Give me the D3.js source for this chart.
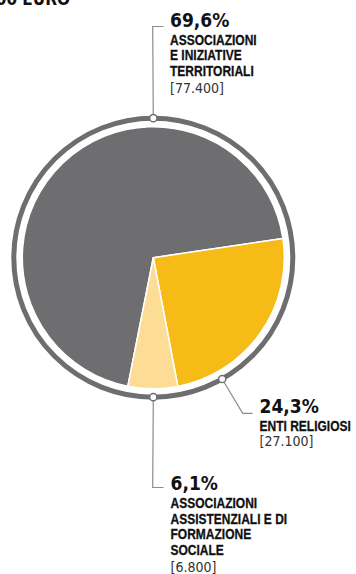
<!DOCTYPE html>
<html>
<head>
<meta charset="utf-8">
<script src="https://cdn.jsdelivr.net/npm/d3@7/dist/d3.min.js"></script>
<style>
  body { margin: 0; background: #fff; }
  svg { display: block; }
</style>
</head>
<body>
<svg id="chart" width="356" height="574"></svg>
<script>
'use strict';

// data
let categories = ['territoriali', 'religiosi', 'assistenziali'];
let values = [77400, 27100, 6800];
let percents = ['69,6%', '24,3%', '6,1%'];
let amounts = ['[77.400]', '[27.100]', '[6.800]'];
let labelLines = [
  ['ASSOCIAZIONI', 'E INIZIATIVE', 'TERRITORIALI'],
  ['ENTI RELIGIOSI'],
  ['ASSOCIAZIONI', 'ASSISTENZIALI E DI', 'FORMAZIONE', 'SOCIALE'],
];
let colors = ['#6e6e70', '#f6bb17', '#fddc96'];

let svg = d3.select('#chart');

let cx = 153.3;
let cy = 257.7;
let radius = 131;
let ringR = 139.5;
let deg = Math.PI / 180;
let startA = 191.2 * deg;
let narrow = 0.8; // condensed look for the label font

// title, cut off at the top of the frame
svg.append('text')
  .attr('x', 70)
  .attr('y', 4.5)
  .style('text-anchor', 'end')
  .style('font-family', 'DejaVu Sans Condensed')
  .style('font-weight', 'bold')
  .style('font-size', '17px')
  .style('fill', '#111')
  .text('000 EURO');

let g = svg.append('g')
  .attr('transform', `translate(${cx},${cy})`);

let pie = d3.pie()
  .sort(null)
  .value(d => d)
  .startAngle(startA)
  .endAngle(startA + 2 * Math.PI);

let arc = d3.arc()
  .innerRadius(0)
  .outerRadius(radius);

g.selectAll('path.slice')
  .data(pie(values))
  .enter()
  .append('path')
  .classed('slice', true)
  .attr('d', arc)
  .style('fill', (d, i) => colors[i])
  .style('stroke', '#fff')
  .style('stroke-width', 1.5)
  .style('stroke-linejoin', 'round');

g.append('circle')
  .attr('r', ringR)
  .style('fill', 'none')
  .style('stroke', '#6e6e70')
  .style('stroke-width', 5);

// label placement (layout only)
let callouts = [
  { angle: 0, path: [[152.7, 26.5], [163.5, 26.5]], x: 170, y: 26.7, bracketGap: 17 },
  { angle: 150.4, path: [[242.7, 413.3], [252.7, 413.3]], x: 259.5, y: 413.3, bracketGap: 15 },
  { angle: 180, path: [[152.7, 487.5], [163.5, 487.5]], x: 170.5, y: 490, bracketGap: 17 },
];

let lineG = svg.append('g').classed('leaders', true);
let labelG = svg.append('g').classed('labels', true);

callouts.forEach((c, i) => {
  let a = c.angle * deg;
  let px = cx + ringR * Math.sin(a);
  let py = cy - ringR * Math.cos(a);
  let pts = [[px, py]].concat(c.path);
  lineG.append('path')
    .attr('d', d3.line()(pts))
    .style('fill', 'none')
    .style('stroke', '#8c8c8c')
    .style('stroke-width', 1.2);
  lineG.append('circle')
    .attr('cx', px)
    .attr('cy', py)
    .attr('r', 3.6)
    .style('fill', '#fff')
    .style('stroke', '#6e6e70')
    .style('stroke-width', 1.5);

  let t = labelG.append('g')
    .classed(categories[i], true);
  t.append('text')
    .attr('x', c.x)
    .attr('y', c.y)
    .style('font-family', 'DejaVu Sans Condensed')
    .style('font-weight', 'bold')
    .style('font-size', '19px')
    .style('fill', '#111')
    .text(percents[i]);
  let lines = labelLines[i];
  lines.forEach((s, j) => {
    t.append('text')
      .attr('transform', `translate(${c.x},${c.y + 17.8 + j * 15.7}) scale(${narrow},1)`)
      .style('font-family', 'Liberation Sans')
      .style('font-weight', 'bold')
      .style('font-size', '15px')
      .style('fill', '#111')
      .style('stroke', '#111')
      .style('stroke-width', 0.3)
      .text(s);
  });
  t.append('text')
    .attr('x', c.x)
    .attr('y', c.y + 17.8 + (lines.length - 1) * 15.7 + c.bracketGap)
    .style('font-family', 'DejaVu Sans Condensed')
    .style('font-size', '14px')
    .style('fill', '#333')
    .text(amounts[i]);
});
</script>
</body>
</html>
